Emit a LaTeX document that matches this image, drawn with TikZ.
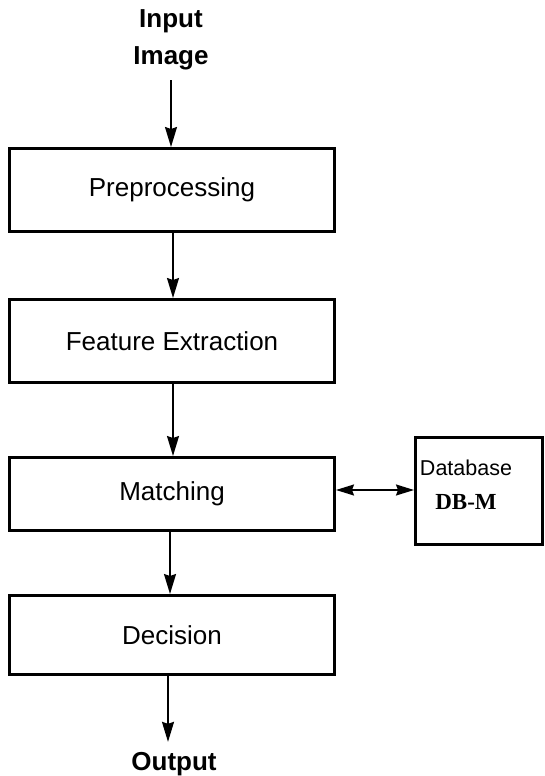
\documentclass[tikz,border=0pt]{standalone}
\usepackage{fontspec}
\setmainfont{Liberation Sans}
\newfontfamily\dbfont{Liberation Serif}
\usetikzlibrary{arrows.meta}

\begin{document}
\begin{tikzpicture}[x=1pt,y=-1pt,
    block/.style={draw,line width=3pt,minimum width=325pt,inner sep=0pt,
        font=\fontsize{26}{31}\selectfont},
    io/.style={font=\fontsize{26}{37}\selectfont\bfseries,align=center,
        inner sep=0pt,outer sep=10pt},
    flow/.style={-{Stealth[length=20pt,width=12pt,inset=2pt]},line width=1.6pt},
    both/.style={{Stealth[length=18pt,width=11pt,inset=2pt]}-{Stealth[length=18pt,width=11pt,inset=2pt]},
        line width=1.6pt},
    ]
    \useasboundingbox (0,0) rectangle (544,776);

    % input / output
    \node[io] (input) at (171,40) {Input\\Image};
    \node[io,anchor=base] (output) at (174,770) {Output};

    % processing blocks
    \node[block,minimum height=83pt] (pre) at (172,190) {Preprocessing};
    \node[block,minimum height=82.5pt] (feat) at (172,340.75) {Feature Extraction};
    \node[block,minimum height=73pt] (match) at (172,494) {Matching};
    \node[block,minimum height=79pt] (dec) at (172,635) {Decision};

    % database
    \node[draw,line width=3pt,minimum width=127pt,minimum height=106.5pt] (db) at (479,490.75) {};
    \node[align=center,font=\fontsize{21.5}{34}\selectfont,inner sep=0pt] (dbname)
        at ([xshift=-13pt,yshift=6pt]db.center) {Database\\{\dbfont\fontsize{23}{34}\selectfont\bfseries DB-M}};

    % arrows
    \draw[flow] (input) -- (input |- pre.north);
    \draw[flow] ([xshift=1pt]pre.south) -- ([xshift=1pt]feat.north);
    \draw[flow] ([xshift=1pt]feat.south) -- ([xshift=1pt]match.north);
    \draw[flow] ([xshift=-2pt]match.south) -- ([xshift=-2pt]dec.north);
    \draw[flow] ([xshift=-4pt]dec.south) -- ([xshift=-4pt]dec.south |- output.north);
    \draw[both] ([yshift=4pt]match.east) -- ([yshift=4pt]match.east -| db.west);
\end{tikzpicture}
\end{document}
